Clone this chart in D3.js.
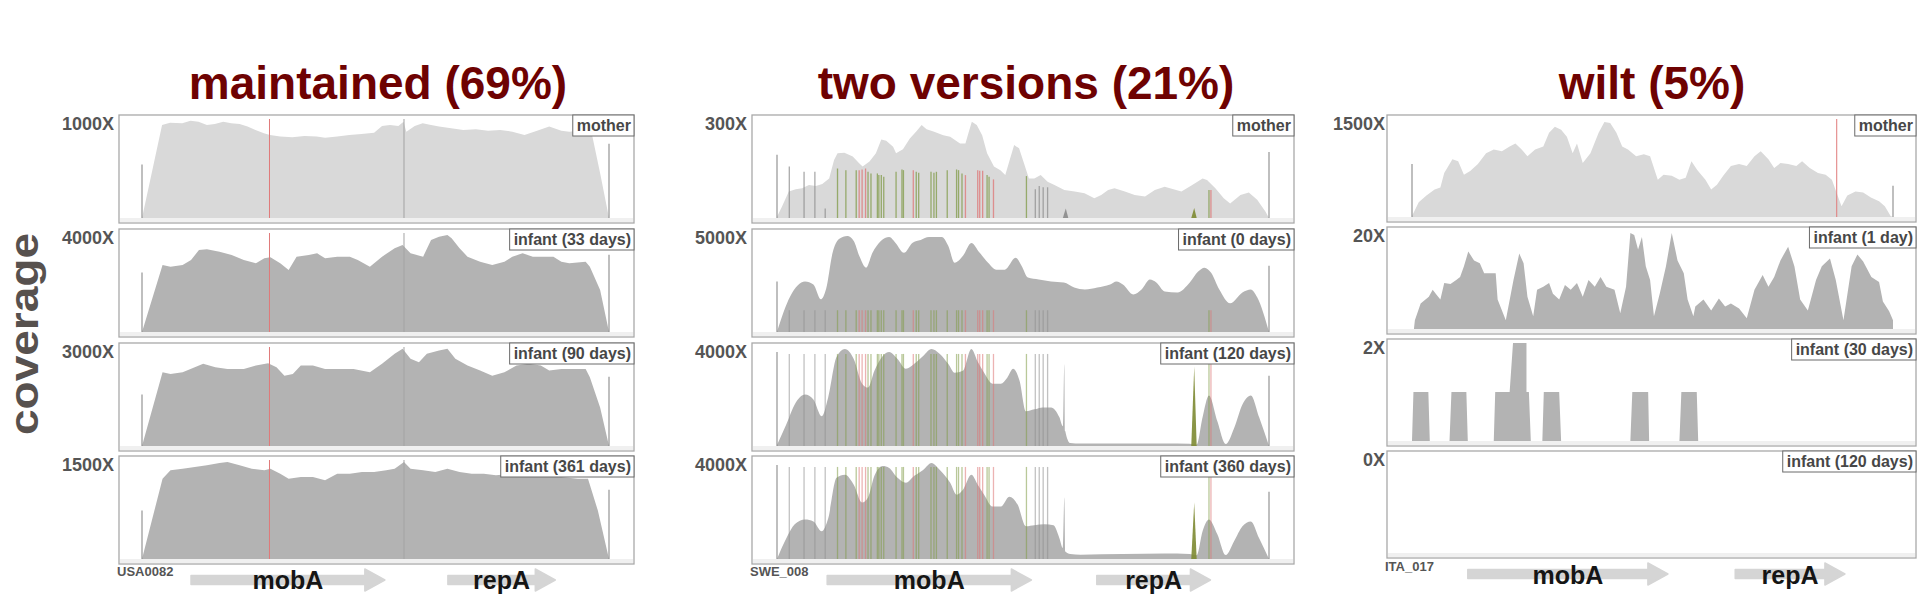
<!DOCTYPE html>
<html><head><meta charset="utf-8">
<script src="https://cdn.jsdelivr.net/npm/d3@7"></script>
<style>
body{margin:0;background:#fff;}
svg{display:block;font-family:"Liberation Sans",Arial,Helvetica,sans-serif;}
</style>
</head><body>
<svg id="c" width="1920" height="597"></svg>
<script>
// ---------------- DATA ----------------
const titles = ["maintained (69%)", "two versions (21%)", "wilt (5%)"];
const isolates = ["USA0082", "SWE_008", "ITA_017"];
const panelLabels = [
  ["mother", "infant (33 days)", "infant (90 days)", "infant (361 days)"],
  ["mother", "infant (0 days)", "infant (120 days)", "infant (360 days)"],
  ["mother", "infant (1 day)", "infant (30 days)", "infant (120 days)"]
];
const axisMax = [[1000, 4000, 3000, 1500], [300, 5000, 4000, 4000], [1500, 20, 2, 0]];
const axisLabels = axisMax.map(g => g.map(v => v + "X"));

// coverage profiles: [position along plasmid (% of length), coverage (X)]
const usaMother = [[0,0],[2.2,480],[4.3,939],[6.0,963],[8.6,956],[10.4,983],[12.1,973],[13.9,939],[15.6,949],[17.4,973],[19.1,956],[20.9,949],[22.6,923],[24.3,889],[26.1,855],[27.4,838],[29.6,822],[32.2,815],[34.8,828],[37.4,822],[39.2,811],[41.8,822],[44.4,838],[47.0,848],[49.7,862],[51.4,929],[53.1,939],[54.9,929],[56.0,973],[56.6,872],[58.4,929],[60.1,956],[61.9,939],[63.6,923],[66.2,906],[68.8,889],[71.5,896],[74.1,882],[76.7,889],[79.3,872],[81.9,838],[84.6,882],[87.2,923],[89.8,882],[91.5,872],[95.0,889],[96.3,855],[98.1,451],[100,0]];
const usaInf33 = [[0,0],[4.4,2707],[6.1,2640],[8.7,2707],[10.5,2909],[12.2,3313],[13.9,3340],[16.6,3246],[19.2,3111],[21.8,2909],[24.4,2775],[26.2,2977],[27.5,3017],[29.6,2775],[31.4,2505],[33.1,3044],[35.7,3111],[37.5,3179],[39.2,2977],[41.8,3044],[44.5,3044],[46.2,2909],[48.8,2640],[51.4,3044],[54.1,3381],[55.8,3515],[57.5,3179],[60.2,3044],[61.9,3717],[63.6,3852],[65.4,3920],[66.3,3785],[68.0,3381],[69.7,3044],[72.4,2842],[75.0,2707],[77.6,2842],[79.3,3044],[81.5,3179],[83.7,3044],[85.4,3044],[88.1,3044],[89.8,2842],[91.5,2775],[95.0,2842],[95.9,2640],[98.1,1697],[100,0]];
const usaInf90 = [[0,0],[4.4,2234],[6.1,2183],[8.7,2234],[11.3,2387],[13.1,2489],[15.7,2387],[18.3,2336],[21.8,2336],[24.4,2438],[27.0,2509],[28.8,2387],[30.5,2132],[32.3,2183],[34.0,2438],[36.6,2438],[39.2,2336],[41.8,2336],[45.3,2336],[48.8,2234],[51.4,2489],[54.1,2795],[55.8,2948],[57.5,2642],[59.3,2540],[61.0,2795],[63.6,2897],[65.4,2948],[67.1,2642],[69.7,2438],[72.4,2285],[75.0,2132],[77.6,2234],[80.2,2438],[82.8,2489],[85.4,2438],[87.2,2285],[89.8,2336],[92.4,2336],[95.0,2336],[95.9,2081],[98.1,1163],[100,0]];
const usaInf361 = [[0,0],[4.4,1217],[6.1,1343],[8.7,1369],[11.3,1394],[13.9,1419],[16.6,1454],[18.3,1470],[20.9,1419],[23.5,1369],[26.2,1343],[27.5,1369],[29.6,1293],[31.4,1217],[34.0,1242],[36.6,1242],[39.2,1192],[41.8,1293],[44.5,1293],[47.1,1318],[49.7,1318],[52.3,1343],[54.1,1369],[56.1,1470],[57.5,1369],[60.2,1343],[62.8,1318],[65.4,1369],[68.0,1318],[70.6,1293],[73.2,1293],[75.8,1268],[79.3,1293],[82.8,1318],[86.3,1268],[89.8,1242],[93.3,1217],[95.5,1217],[97.6,737],[100,0]];

const sweMother = [[0,4],[1.0,34],[2.4,80],[3.8,87],[5.1,90],[6.5,100],[7.9,97],[9.2,103],[10.6,120],[11.6,176],[12.3,196],[13.7,198],[15.4,186],[16.7,166],[17.4,156],[18.8,171],[20.1,196],[21.2,238],[22.2,234],[23.6,216],[24.2,196],[25.6,208],[27.0,241],[28.3,262],[29.4,282],[30.4,269],[31.8,262],[33.8,251],[35.2,246],[37.2,226],[38.3,226],[38.9,257],[39.6,292],[40.6,282],[41.7,251],[42.7,196],[44.1,156],[45.4,145],[46.4,130],[47.1,166],[48.2,221],[49.2,211],[50.2,166],[51.2,120],[52.3,120],[53.6,130],[55.0,110],[56.4,100],[58.4,85],[60.5,80],[62.5,75],[64.5,60],[65.9,70],[67.3,85],[68.6,90],[70.7,80],[72.7,70],[74.8,65],[76.8,85],[78.8,95],[82.2,80],[84.4,100],[86.5,120],[87.4,115],[89.1,90],[90.8,60],[92.1,44],[94.2,70],[95.9,77],[97.6,55],[99.3,19],[100,0]];
const sweInf0 = [[0,0],[2.7,1800],[5.7,2550],[7.4,2400],[8.9,1650],[10.0,2200],[11.3,4000],[12.6,4700],[14.3,4850],[15.6,4600],[16.8,3800],[18.1,3250],[19.4,4000],[21.1,4600],[22.8,4800],[24.1,4500],[25.8,4000],[27.5,4500],[29.2,4650],[30.9,4800],[33.5,4800],[34.8,4350],[36.1,3500],[37.8,3850],[39.5,4500],[41.2,4000],[42.9,3500],[44.6,3150],[46.3,3150],[48.5,3750],[49.7,3350],[51.0,2750],[53.2,2650],[55.7,2550],[58.3,2500],[60.4,2250],[62.6,2150],[65.1,2250],[67.7,2400],[69.0,2550],[70.3,2400],[72.4,1900],[74.1,2150],[75.8,2650],[77.1,2500],[78.8,2050],[81.4,2000],[83.9,2500],[85.6,3050],[86.9,3250],[88.2,3000],[89.9,2150],[92.1,1450],[94.6,2000],[96.3,2150],[97.6,1750],[100,0]];
const sweInf120 = [[0,40],[1.9,880],[3.6,1680],[5.7,2080],[7.4,1880],[9.1,1200],[10.4,1960],[12.1,3600],[13.8,3920],[15.6,3520],[17.3,2520],[18.5,2360],[19.8,3040],[21.5,3640],[22.8,3800],[24.5,3520],[26.2,3120],[27.9,3320],[29.7,3640],[31.4,3920],[33.1,3720],[34.8,3320],[36.1,2960],[37.8,3040],[39.5,3920],[40.8,3400],[42.1,2960],[43.8,2520],[45.5,2520],[46.8,2760],[48.0,3120],[49.3,2640],[50.6,1400],[52.3,1480],[54.0,1560],[55.7,1560],[57.4,1160],[58.1,800],[58.4,3300],[58.6,600],[59.6,120],[61.7,96],[70.3,100],[78.8,96],[83.8,90],[85.3,60],[86.5,1160],[87.8,2040],[89.5,1000],[91.2,80],[92.9,720],[94.6,1680],[96.3,2040],[98.0,1160],[100,0]];
const sweInf360 = [[0,0],[1.9,840],[3.6,1400],[5.7,1600],[7.4,1520],[9.1,1120],[10.4,1640],[12.1,3280],[13.8,3400],[15.6,3000],[17.3,2280],[18.5,2480],[19.8,3360],[21.5,3760],[22.8,3680],[24.5,3280],[26.2,3080],[27.9,3360],[29.7,3600],[31.4,3880],[33.1,3600],[35.2,3080],[36.5,2600],[37.8,2800],[39.5,3400],[40.8,3000],[42.1,2600],[43.8,2120],[45.5,2120],[47.2,2520],[48.9,2200],[50.6,1320],[52.3,1360],[54.4,1400],[56.2,1360],[57.4,840],[58.1,440],[58.4,2480],[58.6,300],[59.6,200],[61.7,176],[70.3,200],[78.8,220],[83.8,200],[85.3,150],[86.5,1120],[87.8,1600],[89.5,1000],[91.2,160],[92.9,720],[94.6,1320],[96.3,1520],[98.0,840],[100,0]];

const itaMother = [[0,15],[1.4,225],[3.0,330],[4.7,420],[5.9,450],[6.7,675],[8.4,885],[9.6,855],[10.8,645],[12.1,705],[13.7,810],[15.4,975],[17.0,1035],[18.7,1005],[20.3,1080],[21.5,1125],[22.8,1035],[24.0,930],[25.6,1035],[27.3,1080],[28.5,1290],[29.7,1380],[31.0,1335],[32.2,1230],[33.4,975],[34.3,1125],[35.5,825],[37.1,975],[38.8,1290],[40.0,1455],[41.2,1440],[42.5,1290],[43.7,1080],[44.9,1035],[46.6,930],[48.2,960],[49.5,930],[51.1,570],[52.3,645],[54.0,630],[55.6,570],[56.9,600],[58.1,855],[59.3,720],[61.0,570],[62.2,420],[63.4,495],[64.7,630],[66.3,780],[68.0,810],[69.6,780],[71.2,930],[72.5,1005],[74.1,885],[75.3,750],[76.6,825],[78.2,810],[79.9,780],[81.1,855],[82.7,750],[84.4,675],[86.0,645],[87.3,570],[88.1,405],[89.3,165],[90.5,330],[92.2,390],[93.8,375],[95.4,300],[97.1,240],[98.3,165],[99.5,15],[100,0]];
const itaInf1 = [[0.4,0],[0.6,1.8],[1.8,5.2],[3.5,6.6],[4.3,8.0],[5.1,7.0],[5.9,6.0],[6.7,9.4],[8.0,9.2],[9.2,10.0],[10.0,10.6],[10.8,12.8],[11.7,15.8],[12.9,14.0],[14.1,13.4],[15.0,11.4],[16.2,11.4],[17.4,11.4],[17.8,6.0],[19.5,1.8],[21.1,10.0],[22.3,15.4],[23.2,13.4],[24.0,6.6],[25.2,2.6],[26.0,8.0],[27.3,8.6],[28.5,9.4],[29.3,7.2],[30.6,6.0],[31.8,9.0],[33.0,8.0],[34.3,9.4],[35.5,6.6],[36.7,10.0],[38.0,8.6],[39.2,10.6],[40.4,8.6],[42.1,8.0],[43.3,3.2],[44.5,8.6],[45.4,19.6],[46.2,19.2],[47.0,16.2],[47.8,18.8],[48.6,12.8],[49.5,10.0],[50.3,2.6],[51.5,7.2],[52.8,12.8],[54.0,19.6],[55.2,14.0],[56.5,11.4],[57.3,6.0],[58.5,2.6],[58.9,4.6],[60.6,6.0],[62.2,3.8],[63.8,6.2],[65.1,4.6],[66.3,5.2],[68.0,4.2],[69.6,2.2],[71.2,8.0],[72.9,11.0],[74.1,8.6],[75.3,10.6],[76.6,14.0],[78.2,16.8],[79.5,12.8],[80.7,6.0],[82.3,3.8],[84.0,10.0],[85.2,12.8],[86.9,14.4],[88.1,10.0],[89.7,1.8],[91.4,12.8],[92.6,15.2],[93.8,13.8],[95.5,10.6],[97.1,9.6],[97.9,5.6],[99.2,3.6],[100,1.8],[100,0]];
const itaInf30 = [[0,0],[0.3,1],[3.4,1],[3.7,0],[7.8,0],[8.2,1],[11.3,1],[11.6,0],[17.0,0],[17.3,1],[20.3,1],[21.0,2],[23.8,2],[23.8,1],[24.3,1],[24.7,0],[27.1,0],[27.4,1],[30.6,1],[31.0,0],[45.4,0],[45.8,1],[49.1,1],[49.3,0],[55.6,0],[56.0,1],[59.2,1],[59.5,0],[100,0]];
const itaInf120 = [];

const profiles = [
  [usaMother, usaInf33, usaInf90, usaInf361],
  [sweMother, sweInf0, sweInf120, sweInf360],
  [itaMother, itaInf1, itaInf30, itaInf120]
];

// coverage of the short edge lines at both ends of the plasmid [left, right]
const edgeCov = [
  [[540, 750], [2400, 3120], [1560, 2100], [735, 1050]],
  [[192, 200], [2550, 3350], [3800, 2840], [3800, 2720]],
  [[810, 480], [0, 0], [0, 0], [0, 0]]
];

// full-height marker lines (USA0082 all panels, ITA_017 mother only)
const usaMarkerPos = [27.3, 56.1];
const usaMarkerType = ["r", "k"];
const itaMarkerPos = [88.3];
const itaMarkerType = ["r"];

// SWE_008 variant positions (two co-existing versions)
const snpPos = [2.5,5.5,7.7,9.8,12.3,14.0,16.1,16.7,17.3,18.0,18.5,19.1,20.4,20.7,21.2,21.7,24.2,25.4,25.7,27.7,28.3,28.8,31.3,31.9,32.4,34.6,36.5,36.9,37.6,38.3,40.8,41.2,41.8,42.7,43.1,44.0,50.7,52.5,53.3,54.1,55.0,87.8,88.2];
const snpType = ["k","k","k","k","g","g","g","r","r","r","g","g","g","g","g","g","g","g","g","r","g","g","g","g","g","g","g","g","g","r","r","r","r","g","g","r","g","k","k","k","k","g","r"];
const snpMotherCov = [156,140,140,29,150,145,145,145,147,150,140,135,135,130,130,125,140,147,145,145,140,137,140,137,140,145,147,145,135,130,145,143,143,130,125,117,127,87,97,93,93,85,85];
const snpInfantCov = [1100, 3720, 3720];   // infant (0), (120), (360 days)
// narrow filled peaks in SWE_008: position, type, coverage per panel
const spikePos = [58.7, 84.8];
const spikeType = ["k", "o"];
const spikeCov = [[29, 30], [0, 0], [0, 3200], [0, 2280]];

const geneNames = ["mobA", "repA"];
const geneStart = [[10.5, 65.5], [10.2, 65.0], [11.6, 67.2]];
const geneEnd = [[52.0, 88.5], [51.7, 88.1], [53.2, 90.0]];

// ---------------- LAYOUT / STYLE ----------------
const layout = [
  {x: 119, w: 515, d0: 142, d1: 609, tops: [115, 229, 343, 456], h: 108, cx: 378, labGap: 5, isoY: 576, arrowY: 580, geneY: 589},
  {x: 752, w: 542, d0: 777, d1: 1269, tops: [115, 229, 343, 456], h: 108, cx: 1026, labGap: 5, isoY: 576, arrowY: 580, geneY: 589},
  {x: 1387, w: 529, d0: 1412, d1: 1893, tops: [115, 227, 339, 451], h: 107, cx: 1652, labGap: 2, isoY: 571, arrowY: 574, geneY: 584}
];
const lineColor = {r: "#dd7474", g: "#7f9a45", k: "#8e8e8e"};
const spikeColor = {k: "#8a8a8a", o: "#7d8a32"};

const svg = d3.select("#c");
const defs = svg.append("defs");

// y-axis title
svg.append("text")
  .attr("transform", "translate(38,334) rotate(-90)")
  .attr("text-anchor", "middle")
  .attr("font-size", 41).attr("font-weight", "bold")
  .attr("fill", "#57514e")
  .attr("textLength", 202).attr("lengthAdjust", "spacingAndGlyphs")
  .text("coverage");

layout.forEach((L, gi) => {
  const g = svg.append("g");
  const x = d3.scaleLinear().domain([0, 100]).range([L.d0, L.d1]);

  // title
  g.append("text").attr("x", L.cx).attr("y", 99)
    .attr("text-anchor", "middle").attr("font-size", 46).attr("font-weight", "bold")
    .attr("fill", "#6e0202").text(titles[gi]);

  L.tops.forEach((top, pi) => {
    const base = top + L.h - 5;
    const y = d3.scaleLinear().domain([0, axisMax[gi][pi] || 1]).range([base, top + 4]);
    const cid = `clip${gi}${pi}`;
    defs.append("clipPath").attr("id", cid).append("rect")
      .attr("x", L.x).attr("y", top).attr("width", L.w).attr("height", L.h);
    const p = g.append("g");
    p.append("rect").attr("x", L.x).attr("y", top).attr("width", L.w).attr("height", L.h)
      .attr("fill", "#fff").attr("stroke", "#a9a9a9").attr("stroke-width", 1.3);
    p.append("rect").attr("x", L.x + 1).attr("y", base).attr("width", L.w - 2).attr("height", L.h - (base - top) - 1)
      .attr("fill", "#f0f0f0");
    const inner = p.append("g").attr("clip-path", `url(#${cid})`);

    const data = profiles[gi][pi];
    const curve = (gi === 1 && pi > 0) ? d3.curveMonotoneX : d3.curveLinear;
    if (data.length) {
      inner.append("path").datum(data)
        .attr("fill", pi === 0 ? "#d9d9d9" : "#b3b3b3")
        .attr("d", d3.area().x(d => x(d[0])).y0(base).y1(d => y(d[1])).curve(curve));
    }

    // SWE variants
    if (gi === 1) {
      inner.selectAll(".snp").data(snpPos).enter().append("line")
        .attr("x1", d => x(d)).attr("x2", d => x(d))
        .attr("y1", base)
        .attr("y2", (d, i) => y(pi === 0 ? snpMotherCov[i] : snpInfantCov[pi - 1]))
        .attr("stroke", (d, i) => lineColor[snpType[i]])
        .attr("stroke-width", 1.3).attr("stroke-opacity", pi === 0 ? 0.75 : 0.55);
      spikePos.forEach((sp, si) => {
        const c = spikeCov[pi][si];
        if (!c) return;
        inner.append("path").datum([[sp - 0.6, 0], [sp, c], [sp + 0.5, 0]])
          .attr("fill", spikeColor[spikeType[si]]).attr("fill-opacity", 0.9)
          .attr("d", d3.area().x(d => x(d[0])).y0(base).y1(d => y(d[1])));
      });
    }
    // full-height markers
    const mPos = gi === 0 ? usaMarkerPos : (gi === 2 && pi === 0 ? itaMarkerPos : []);
    const mType = gi === 0 ? usaMarkerType : itaMarkerType;
    inner.selectAll(".mk").data(mPos).enter().append("line")
      .attr("x1", d => x(d)).attr("x2", d => x(d))
      .attr("y1", base).attr("y2", top + 4)
      .attr("stroke", (d, i) => mType[i] === "r" ? "#e07a7a" : "#a3a3a3")
      .attr("stroke-width", 1);
    // edge lines
    const ec = edgeCov[gi][pi];
    [0, 100].forEach((pos, k) => {
      if (!ec[k]) return;
      inner.append("line").attr("x1", x(pos)).attr("x2", x(pos))
        .attr("y1", base).attr("y2", y(ec[k]))
        .attr("stroke", "#8a8a8a").attr("stroke-width", 1.1);
    });

    // panel label box
    const lt = p.append("text").attr("x", L.x + L.w - 3).attr("y", top + 16)
      .attr("text-anchor", "end").attr("font-size", 16).attr("font-weight", "bold")
      .attr("fill", "#474747").text(panelLabels[gi][pi]);
    const tw = lt.node().getComputedTextLength();
    p.insert("rect", "text").attr("x", L.x + L.w - tw - 7).attr("y", top)
      .attr("width", tw + 7).attr("height", 21)
      .attr("fill", "#fff").attr("stroke", "#6a6a6a").attr("stroke-width", 1);

    // axis max label
    g.append("text").attr("x", L.x - L.labGap).attr("y", top + 15)
      .attr("text-anchor", "end").attr("font-size", 18).attr("font-weight", "bold")
      .attr("fill", "#555").text(axisLabels[gi][pi]);
  });

  // isolate name
  g.append("text").attr("x", L.x - 2).attr("y", L.isoY)
    .attr("font-size", 13).attr("font-weight", "bold").attr("fill", "#555").text(isolates[gi]);

  // gene arrows
  geneNames.forEach((name, k) => {
    const xs = x(geneStart[gi][k]), xe = x(geneEnd[gi][k]);
    const head = 20, sh = 4.5, hh = 11, yc = L.arrowY;
    const pts = [[xs, yc - sh], [xe - head, yc - sh], [xe - head, yc - hh], [xe, yc], [xe - head, yc + hh], [xe - head, yc + sh], [xs, yc + sh]];
    g.append("polygon").attr("points", pts.map(q => q.join(",")).join(" "))
      .attr("fill", "#d5d5d5").attr("stroke", "#d5d5d5").attr("stroke-width", 1.5).attr("stroke-linejoin", "round");
    g.append("text").attr("x", (xs + xe) / 2).attr("y", L.geneY)
      .attr("text-anchor", "middle").attr("font-size", 25).attr("font-weight", "bold")
      .attr("fill", "#151515").text(name);
  });
});
</script>
</body></html>
